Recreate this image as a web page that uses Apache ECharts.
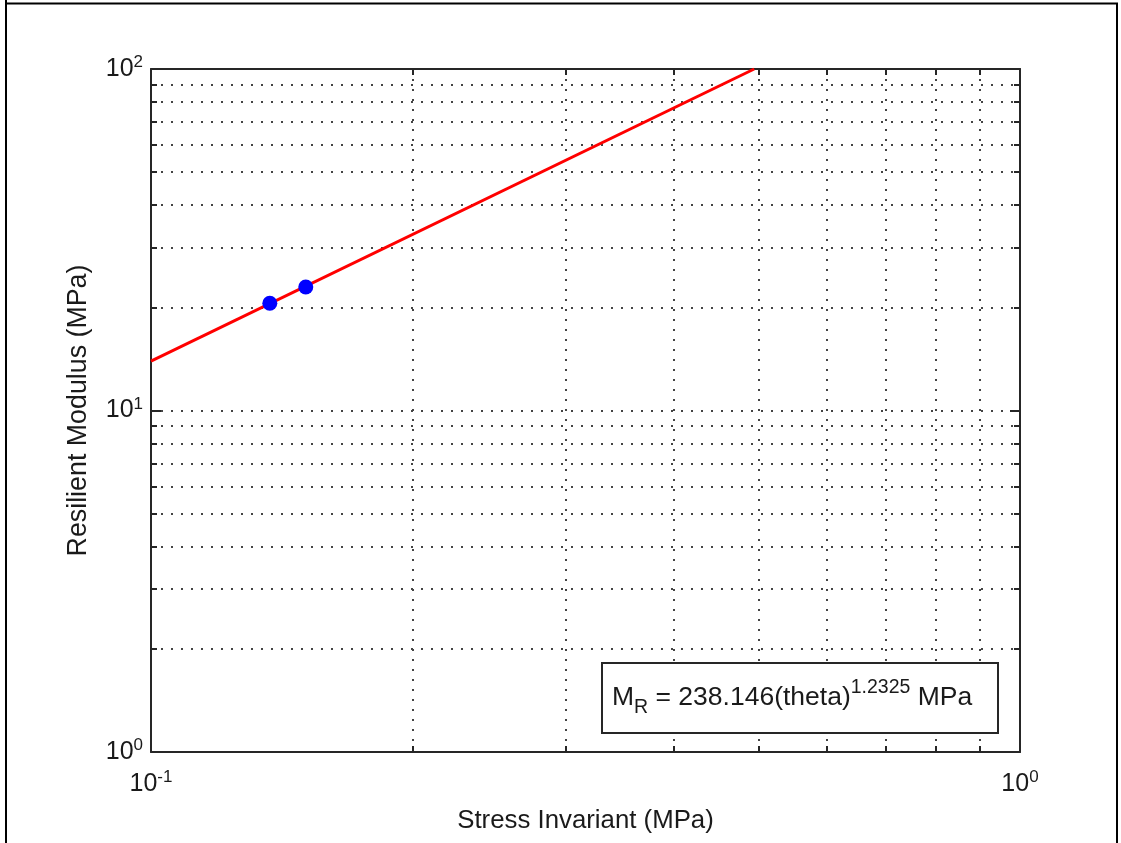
<!DOCTYPE html>
<html><head><meta charset="utf-8">
<script src="https://cdn.jsdelivr.net/npm/echarts@6/dist/echarts.min.js"></script>
<style>html,body{margin:0;padding:0;background:#fff}#c{width:1121px;height:843px}</style>
</head><body><div id="c"></div>
<script>
// ---- data ----
const xMinorTicks = [0.1, 0.2, 0.3, 0.4, 0.5, 0.6, 0.7, 0.8, 0.9, 1];
const yMinorTicks = [1, 2, 3, 4, 5, 6, 7, 8, 9, 10, 20, 30, 40, 50, 60, 70, 80, 90, 100];
const pointX = [0.137, 0.1507];
const pointY = [20.6, 23.0];
const fitX = [0.1, 0.4945];
const fitY = [13.95, 100];
const xName = 'Stress Invariant (MPa)';
const yName = 'Resilient Modulus (MPa)';

const FONT = '"Liberation Sans", Arial, sans-serif';
const TXT = '#1a1a1a';
const AX = '#262626';

const expLabel = v => '{b|10}{s|' + Math.round(Math.log10(v)) + '}';
const rich = {
  b: { fontSize: 25, lineHeight: 30, fontFamily: FONT, color: TXT, verticalAlign: 'middle' },
  s: { fontSize: 17, lineHeight: 8, fontFamily: FONT, color: TXT, verticalAlign: 'top' }
};
const dotted = { show: true, lineStyle: { color: '#444', width: 2, type: [2, 8] } };

function xAx(pos, major, opts) {
  return Object.assign({
    type: 'log', logBase: 10, min: 0.1, max: 1, position: pos,
    axisLine: { show: major, onZero: false, lineStyle: { color: AX, width: 2 } },
    axisTick: major ? { show: true, inside: true, length: 10, lineStyle: { color: AX, width: 2 } }
                    : { show: true, inside: true, length: 6, customValues: xMinorTicks, lineStyle: { color: AX, width: 2 } },
    axisLabel: { show: false },
    splitLine: { show: false }
  }, opts || {});
}
function yAx(pos, major, opts) {
  return Object.assign({
    type: 'log', logBase: 10, min: 1, max: 100, position: pos,
    axisLine: { show: major, onZero: false, lineStyle: { color: AX, width: 2 } },
    axisTick: major ? { show: true, inside: true, length: 10, lineStyle: { color: AX, width: 2 } }
                    : { show: true, inside: true, length: 6, customValues: yMinorTicks, lineStyle: { color: AX, width: 2 } },
    axisLabel: { show: false },
    splitLine: { show: false }
  }, opts || {});
}

const chart = echarts.init(document.getElementById('c'), null, { renderer: 'canvas' });
chart.setOption({
  backgroundColor: '#fff',
  animation: false,
  grid: { left: 151, right: 101, top: 69, bottom: 91, containLabel: false, outerBoundsMode: 'none' },
  xAxis: [
    xAx('bottom', true, {
      axisLabel: { show: true, margin: 17, formatter: expLabel, rich: rich },
      name: xName, nameLocation: 'middle', nameGap: 56,
      nameTextStyle: { fontSize: 25.8, fontFamily: FONT, color: TXT }
    }),
    xAx('top', true),
    xAx('bottom', false, { splitLine: dotted }),
    xAx('top', false)
  ],
  yAxis: [
    yAx('left', true, {
      axisLabel: { show: true, margin: 8, formatter: expLabel, rich: rich },
      name: yName, nameLocation: 'middle', nameGap: 59,
      nameTextStyle: { fontSize: 26.8, fontFamily: FONT, color: TXT }
    }),
    yAx('right', true),
    yAx('left', false, { splitLine: dotted }),
    yAx('right', false)
  ],
  series: [
    {
      type: 'line', xAxisIndex: 0, yAxisIndex: 0, z: 5,
      data: fitX.map((x, i) => [x, fitY[i]]),
      symbol: 'none', lineStyle: { color: '#ff0000', width: 3 }
    },
    {
      type: 'scatter', xAxisIndex: 0, yAxisIndex: 0, z: 6,
      data: pointX.map((x, i) => [x, pointY[i]]),
      symbol: 'circle', symbolSize: 15, itemStyle: { color: '#0000ff', opacity: 1 }
    }
  ],
  graphic: [
    { type: 'line', shape: { x1: 6, y1: 0, x2: 6, y2: 843 }, style: { stroke: '#000', lineWidth: 2 } },
    { type: 'line', shape: { x1: 5, y1: 3.5, x2: 1118, y2: 3.5 }, style: { stroke: '#000', lineWidth: 2 } },
    { type: 'line', shape: { x1: 1117, y1: 3, x2: 1117, y2: 843 }, style: { stroke: '#000', lineWidth: 2 } },
    { type: 'rect', shape: { x: 602, y: 663, width: 396, height: 70 }, z: 100,
      style: { fill: '#fff', stroke: AX, lineWidth: 2 } },
    { type: 'text', x: 612, y: 698, z: 101,
      style: {
        text: '{n|M}{sub|R}{n| = 238.146(theta)}{sup|1.2325}{n| MPa}',
        verticalAlign: 'middle', align: 'left',
        rich: {
          n: { fontSize: 26.5, lineHeight: 40, fontFamily: FONT, fill: TXT, verticalAlign: 'middle' },
          sub: { fontSize: 19.5, lineHeight: 12, fontFamily: FONT, fill: TXT, verticalAlign: 'bottom' },
          sup: { fontSize: 19.5, lineHeight: 12, fontFamily: FONT, fill: TXT, verticalAlign: 'top' }
        }
      }
    }
  ]
});
</script></body></html>
